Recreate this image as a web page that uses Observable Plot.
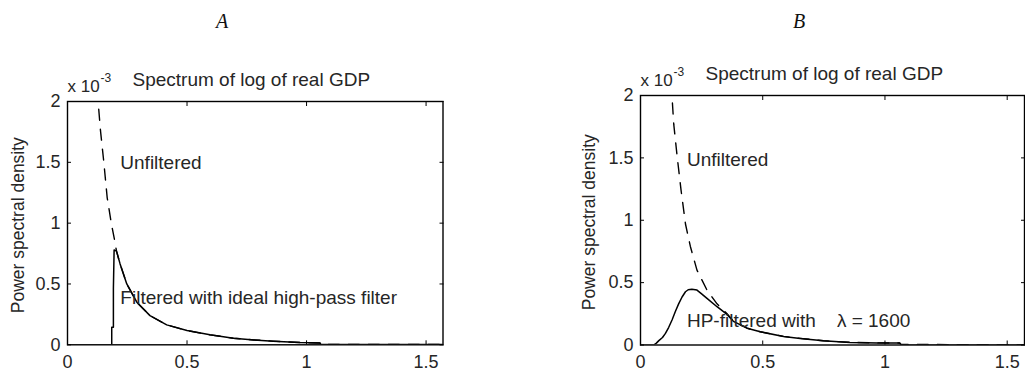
<!DOCTYPE html>
<html><head><meta charset="utf-8">
<script src="https://cdn.jsdelivr.net/npm/d3@7"></script>
<script src="https://cdn.jsdelivr.net/npm/@observablehq/plot@0.6"></script>
<style>
html,body{margin:0;padding:0;background:#fff;}
#wrap{position:relative;width:1025px;height:371px;overflow:hidden;font-family:"Liberation Sans",Arial,sans-serif;}
.panel-title{position:absolute;top:11px;line-height:20px;font-family:"Liberation Serif","Times New Roman",serif;font-style:italic;font-size:20px;color:#111;transform:translateX(-50%);}
.chart{position:absolute;top:0;}
.chart svg{overflow:visible;}
</style></head><body>
<div id="wrap">
  <div class="panel-title" style="left:222px">A</div>
  <div class="panel-title" style="left:799px">B</div>
  <div class="chart" id="left" style="left:0px"></div>
  <div class="chart" id="right" style="left:512px"></div>
</div>
<script>
// ---- data (PSD in units of 1e-3) ----
const xTicks = [0, 0.5, 1, 1.5];
const yTicks = [0, 0.5, 1, 1.5, 2];
const xMax = 1.5708;
const panelTitle = "Spectrum of log of real GDP";
const yLabel = "Power spectral density";

const leftUnfiltered = [
  [0.124, 2.1], [0.128, 2.0], [0.138, 1.76], [0.152, 1.5], [0.166, 1.21], [0.184, 0.99],
  [0.197, 0.86], [0.205, 0.77], [0.22, 0.665], [0.248, 0.5], [0.29, 0.35], [0.345, 0.24],
  [0.415, 0.164], [0.5, 0.117], [0.596, 0.082], [0.694, 0.054], [0.78, 0.04], [0.86, 0.03],
  [0.972, 0.019], [1.056, 0.015], [1.06, 0.004], [1.3, 0.003], [1.5708, 0.002]
];
const leftFiltered = [
  [0, 0], [0.185, 0], [0.185, 0.145], [0.192, 0.145], [0.192, 0.46], [0.195, 0.78],
  [0.205, 0.77], [0.22, 0.665], [0.248, 0.5], [0.29, 0.35], [0.345, 0.24],
  [0.415, 0.164], [0.5, 0.117], [0.596, 0.082], [0.694, 0.054], [0.78, 0.04], [0.86, 0.03],
  [0.972, 0.019], [1.056, 0.015], [1.06, 0.004], [1.3, 0.003], [1.5708, 0.002]
];
const rightUnfiltered = [
  [0.125, 2.1], [0.129, 1.99], [0.136, 1.77], [0.15, 1.51], [0.166, 1.24], [0.184, 0.97],
  [0.204, 0.79], [0.231, 0.6], [0.272, 0.44], [0.313, 0.33], [0.354, 0.25], [0.38, 0.19],
  [0.436, 0.135], [0.49, 0.106], [0.585, 0.069], [0.653, 0.053], [0.748, 0.034],
  [0.857, 0.021], [0.97, 0.017], [1.06, 0.016], [1.065, 0.004], [1.5708, 0.002]
];
const rightFiltered = [
  [0, 0], [0.054, 0], [0.065, 0.015], [0.075, 0.035], [0.09, 0.06], [0.102, 0.093],
  [0.115, 0.14], [0.129, 0.2], [0.143, 0.27], [0.156, 0.33], [0.17, 0.385], [0.184, 0.427],
  [0.195, 0.443], [0.21, 0.447], [0.231, 0.44], [0.25, 0.41], [0.272, 0.374], [0.313, 0.307],
  [0.354, 0.245], [0.38, 0.19], [0.436, 0.135], [0.49, 0.106], [0.585, 0.069],
  [0.653, 0.053], [0.748, 0.034], [0.857, 0.021], [0.97, 0.017], [1.06, 0.016],
  [1.065, 0.004], [1.5708, 0.002]
];

const textColor = "#262626";

function panel({width, marginLeft, marginRight, marginTop, marginBottom, unfiltered, filtered,
                unfPos, filtPos, filtText, yLabelDx}) {
  return Plot.plot({
    width, height: 371, marginLeft, marginRight, marginTop, marginBottom,
    style: {fontFamily: "'Liberation Sans', Arial, sans-serif", color: "#000", background: "transparent"},
    x: {domain: [0, xMax]},
    y: {domain: [0, 2]},
    marks: [
      Plot.line(unfiltered, {x: d => d[0], y: d => d[1], stroke: "#000", strokeWidth: 1.4,
        strokeDasharray: "11,9", clip: true}),
      Plot.line(filtered, {x: d => d[0], y: d => d[1], stroke: "#000", strokeWidth: 1.5, clip: true}),
      Plot.frame({stroke: "#000", strokeWidth: 1.4}),
      // inward ticks on all four sides
      Plot.axisX(xTicks, {anchor: "bottom", tickSize: 4, dy: -4, fill: "none", label: null, stroke: "#000"}),
      Plot.axisX(xTicks, {anchor: "top", tickSize: 4, dy: 4, fill: "none", label: null, stroke: "#000"}),
      Plot.axisY(yTicks, {anchor: "left", tickSize: 4, dx: 4, fill: "none", label: null, stroke: "#000"}),
      Plot.axisY(yTicks, {anchor: "right", tickSize: 4, dx: -4, fill: "none", label: null, stroke: "#000"}),
      // tick labels
      Plot.axisX(xTicks, {anchor: "bottom", tickSize: 0, tickPadding: 10, label: null, fontSize: 18,
        fill: textColor, tickFormat: d => String(d)}),
      Plot.axisY(yTicks, {anchor: "left", tickSize: 0, tickPadding: 7, label: null, fontSize: 18,
        fill: textColor, tickFormat: d => String(d)}),
      // axis label
      Plot.text([yLabel], {text: d => d, frameAnchor: "left", dx: yLabelDx, dy: 2, rotate: -90,
        fontSize: 17.5, fill: textColor, textAnchor: "middle", lineAnchor: "middle"}),
      // title + exponent
      Plot.text([panelTitle], {text: d => d, frameAnchor: "top-left", dx: 65, dy: -16,
        textAnchor: "start", lineAnchor: "bottom", fontSize: 19, fill: textColor}),
      Plot.text(["x 10"], {text: d => d, frameAnchor: "top-left", dx: 0, dy: -10,
        textAnchor: "start", lineAnchor: "bottom", fontSize: 17, fill: textColor}),
      Plot.text(["-3"], {text: d => d, frameAnchor: "top-left", dx: 33, dy: -20,
        textAnchor: "start", lineAnchor: "bottom", fontSize: 12, fill: textColor}),
      // annotations
      Plot.text(["Unfiltered"], {text: d => d, x: unfPos[0], y: unfPos[1], textAnchor: "start",
        lineAnchor: "bottom", fontSize: 19, fill: textColor}),
      Plot.text([filtText], {text: d => d, x: filtPos[0], y: filtPos[1], textAnchor: "start",
        lineAnchor: "bottom", fontSize: 19, fill: textColor})
    ]
  });
}

document.getElementById("left").append(panel({
  width: 512, marginLeft: 67, marginRight: 69.5, marginTop: 101, marginBottom: 26.7,
  unfiltered: leftUnfiltered, filtered: leftFiltered,
  unfPos: [0.221, 1.447], filtPos: [0.221, 0.337],
  filtText: "Filtered with ideal high-pass filter", yLabelDx: -49
}));
document.getElementById("right").append(panel({
  width: 513, marginLeft: 128, marginRight: 1, marginTop: 95, marginBottom: 26.5,
  unfiltered: rightUnfiltered, filtered: rightFiltered,
  unfPos: [0.19, 1.436], filtPos: [0.19, 0.142],
  filtText: "HP-filtered with\u00a0\u00a0\u00a0\u00a0\u03bb = 1600", yLabelDx: -51
}));
</script>
</body></html>
